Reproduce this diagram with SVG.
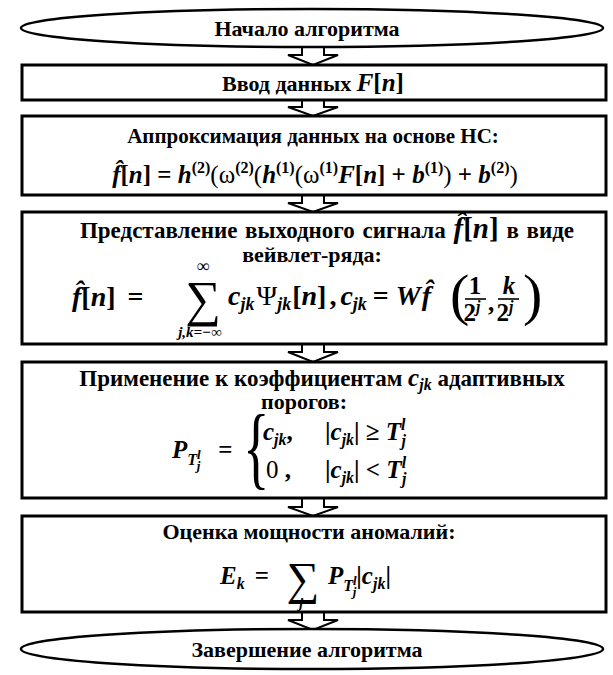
<svg xmlns="http://www.w3.org/2000/svg" width="613" height="675" viewBox="0 0 613 675">
<style>
.t{font-family:"Liberation Serif","DejaVu Serif",serif;font-weight:bold;font-size:22px;fill:#000}
.m{font-family:"Liberation Serif","DejaVu Serif",serif;font-weight:bold;font-size:25px;fill:#000}
.i{font-style:italic}
.n{font-weight:normal}
.s{font-size:16px}
.xs{font-size:13px}
.box{fill:#fff;stroke:#000;stroke-width:3}
.ell{fill:#fff;stroke:#000;stroke-width:2.5}
.arr{fill:#fff;stroke:#000;stroke-width:2;stroke-linejoin:miter}
.ln{stroke:#000;stroke-width:1.6}
</style>
<g id="connectors">
<path class="arr" d="M302,44 V55 H288 L313,65 L338,55 H324 V44"/>
<path class="arr" d="M302,99 V107 H288 L313,116 L338,107 H324 V99"/>
<path class="arr" d="M302,194 V203 H288 L313,212 L338,203 H324 V194"/>
<path class="arr" d="M302,343 V352 H288 L313,362 L338,352 H324 V343"/>
<path class="arr" d="M302,497 V507 H288 L313,516 L338,507 H324 V497"/>
<path class="arr" d="M302,611 V620 H288 L313,630 L338,620 H324 V611"/>
</g>
<g id="start">
<ellipse class="ell" cx="312" cy="28" rx="291" ry="19"/>
<text class="t" x="307" y="36" text-anchor="middle">Начало алгоритма</text>
</g>
<g id="input">
<rect class="box" x="22" y="65" width="584" height="35"/>
<text class="t" x="313" y="91" text-anchor="middle">Ввод данных <tspan class="m i">F</tspan><tspan class="m">[</tspan><tspan class="m i">n</tspan><tspan class="m">]</tspan></text>
</g>
<g id="approx">
<rect class="box" x="22" y="116" width="584" height="79"/>
<text class="t" x="313" y="143" text-anchor="middle" style="font-size:21px">Аппроксимация данных на основе НС:</text>
<text class="m" x="315" y="183" text-anchor="middle"><tspan class="i">f̂</tspan>[<tspan class="i">n</tspan>] = <tspan class="i">h</tspan><tspan class="s" dy="-10">(2)</tspan><tspan class="n" dy="10">(ω</tspan><tspan class="s" dy="-10">(2)</tspan><tspan class="n" dy="10">(</tspan><tspan class="i">h</tspan><tspan class="s" dy="-10">(1)</tspan><tspan class="n" dy="10">(ω</tspan><tspan class="s" dy="-10">(1)</tspan><tspan class="i" dy="10">F</tspan>[<tspan class="i">n</tspan>] + <tspan class="i">b</tspan><tspan class="s" dy="-10">(1)</tspan><tspan class="n" dy="10">)</tspan> + <tspan class="i">b</tspan><tspan class="s" dy="-10">(2)</tspan><tspan class="n" dy="10">)</tspan></text>
</g>
<g id="wavelet">
<rect class="box" x="22" y="212" width="584" height="132"/>
<text class="t" x="327" y="238" text-anchor="middle" style="font-size:23px;word-spacing:2px">Представление выходного сигнала <tspan class="m i" style="font-size:29px">f̂</tspan><tspan class="m" style="font-size:29px">[</tspan><tspan class="m i" style="font-size:29px">n</tspan><tspan class="m" style="font-size:29px">]</tspan> в виде</text>
<text class="t" x="312" y="262" text-anchor="middle">вейвлет-ряда:</text>
<text class="m" x="72" y="306" style="font-size:28px"><tspan class="i">f̂</tspan>[<tspan class="i">n</tspan>]<tspan dx="12">=</tspan></text>
<text class="m n" x="203" y="272" text-anchor="middle" style="font-size:18px">∞</text>
<text class="m n" x="203" y="316" text-anchor="middle" style="font-size:50px">∑</text>
<text class="m i" x="200" y="337" text-anchor="middle" style="font-size:15px">j,k=−∞</text>
<text class="m" x="228" y="305" style="font-size:28px"><tspan class="i">c</tspan><tspan class="s i" dy="5" style="font-size:18px">jk</tspan><tspan class="n" dy="-5" dx="2">Ψ</tspan><tspan class="s i" dy="5" style="font-size:18px">jk</tspan><tspan dy="-5" dx="1">[</tspan><tspan class="i">n</tspan>]<tspan dx="3">,</tspan><tspan class="i" dx="4">c</tspan><tspan class="s i" dy="5" style="font-size:18px">jk</tspan><tspan dy="-5" dx="6">=</tspan><tspan class="i" dx="7">W</tspan><tspan class="i" dx="1">f̂</tspan></text>
<text class="m n" x="450" y="314" style="font-size:58px">(</text>
<text class="m" x="475" y="294" text-anchor="middle">1</text>
<line class="ln" x1="465" y1="299" x2="486" y2="299"/>
<text class="m" x="472" y="321" text-anchor="middle">2<tspan class="s i" dy="-9">j</tspan></text>
<text class="m" x="488" y="311">,</text>
<text class="m i" x="509" y="294" text-anchor="middle">k</text>
<line class="ln" x1="498" y1="299" x2="519" y2="299"/>
<text class="m" x="505" y="321" text-anchor="middle">2<tspan class="s i" dy="-9">j</tspan></text>
<text class="m n" x="523" y="314" style="font-size:58px">)</text>
</g>
<g id="threshold">
<rect class="box" x="22" y="362" width="584" height="136"/>
<text class="t" x="322" y="386" text-anchor="middle" style="font-size:23px">Применение к коэффициентам <tspan class="m i">c</tspan><tspan class="s i" dy="4">jk</tspan><tspan dy="-4"> адаптивных</tspan></text>
<text class="t" x="304" y="409" text-anchor="middle">порогов:</text>
<text class="m" x="172" y="458"><tspan class="i">P</tspan><tspan class="s i" dy="7">T</tspan><tspan class="xs i" dy="-6">l</tspan><tspan class="xs i" dx="-4" dy="11">j</tspan><tspan dy="-12" dx="18">=</tspan></text>
<text class="m n" x="243" y="478" transform="translate(243,0) scale(0.6,1) translate(-243,0)" style="font-size:92px">{</text>
<text class="m" x="263" y="440"><tspan class="i">c</tspan><tspan class="s i" dy="5">jk</tspan><tspan dy="-5">,</tspan></text>
<text class="m" x="325" y="440">|<tspan class="i">c</tspan><tspan class="s i" dy="5">jk</tspan><tspan dy="-5">| ≥ </tspan><tspan class="i">T</tspan><tspan class="s i" dy="-10">l</tspan><tspan class="s i" dx="-4" dy="16">j</tspan></text>
<text class="m" x="266" y="478"><tspan class="n">0</tspan> ,</text>
<text class="m" x="325" y="478">|<tspan class="i">c</tspan><tspan class="s i" dy="5">jk</tspan><tspan dy="-5">| &lt; </tspan><tspan class="i">T</tspan><tspan class="s i" dy="-10">l</tspan><tspan class="s i" dx="-4" dy="16">j</tspan></text>
</g>
<g id="energy">
<rect class="box" x="22" y="516" width="584" height="96"/>
<text class="t" x="309" y="539" text-anchor="middle">Оценка мощности аномалий:</text>
<text class="m" x="220" y="584"><tspan class="i">E</tspan><tspan class="s i" dy="5">k</tspan><tspan dy="-5" dx="10">=</tspan></text>
<text class="m n" x="303" y="594" text-anchor="middle" style="font-size:46px">∑</text>
<text class="m i" x="301" y="608" text-anchor="middle" style="font-size:15px">j</text>
<text class="m" x="328" y="584"><tspan class="i">P</tspan><tspan class="s i" dy="7">T</tspan><tspan class="xs i" dy="-6">l</tspan><tspan class="xs i" dx="-4" dy="11">j</tspan><tspan dy="-12">|</tspan><tspan class="i">c</tspan><tspan class="s i" dy="5">jk</tspan><tspan dy="-5">|</tspan></text>
</g>
<g id="end">
<ellipse class="ell" cx="312" cy="649" rx="291" ry="20"/>
<text class="t" x="307" y="657" text-anchor="middle">Завершение алгоритма</text>
</g>
</svg>
